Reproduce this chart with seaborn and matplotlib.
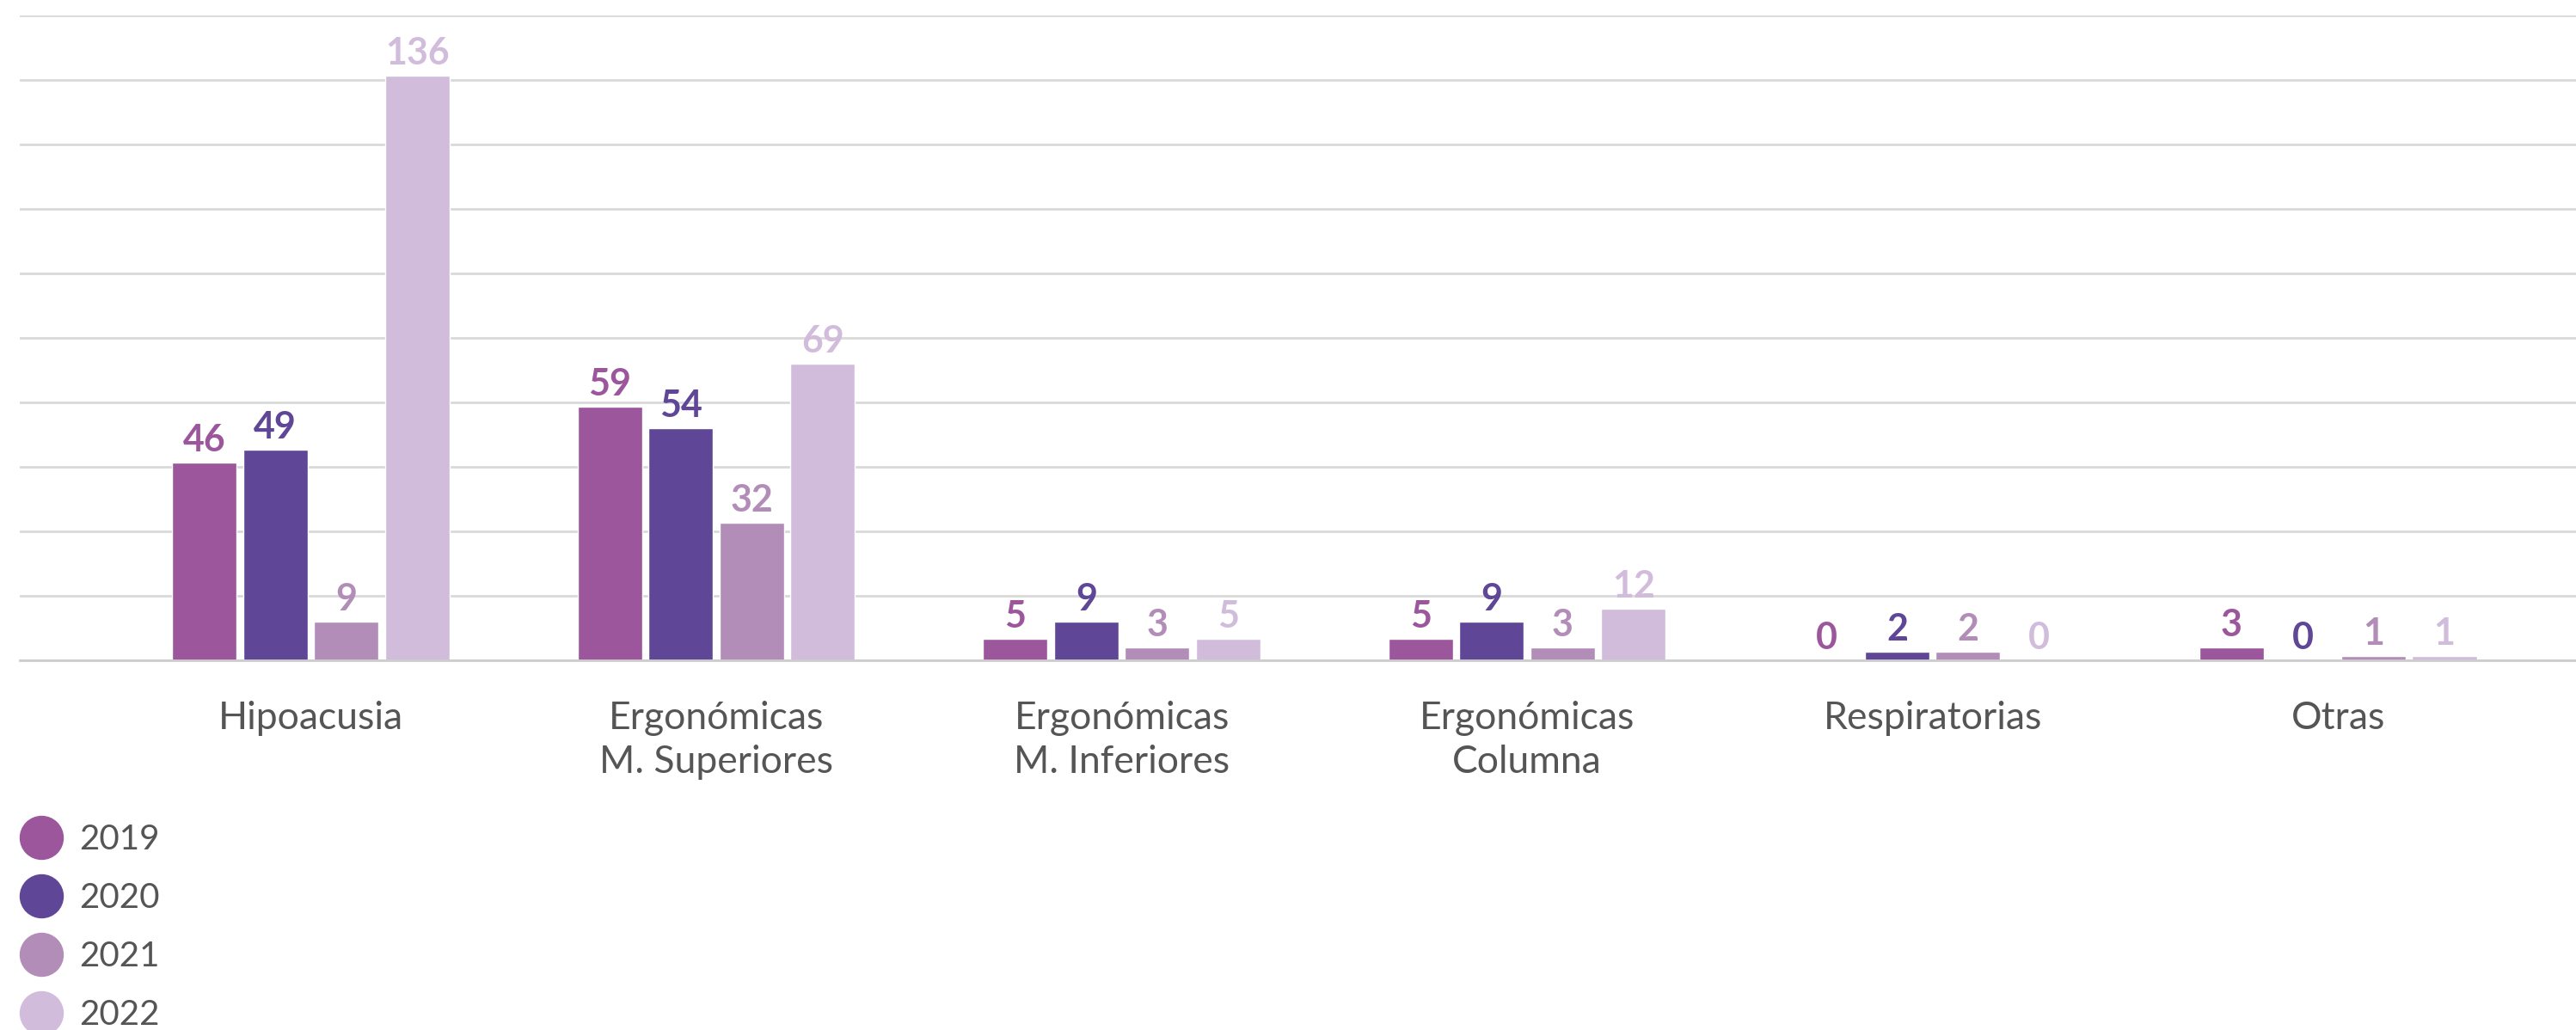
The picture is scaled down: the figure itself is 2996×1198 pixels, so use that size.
"""
Enfermedades profesionales por tipo, 2019-2022 (grouped bars).
"""
import pandas as pd
import matplotlib
matplotlib.use("Agg")
import matplotlib.pyplot as plt
from matplotlib.lines import Line2D
import seaborn as sns

categories = ["Hipoacusia", "Ergonómicas\nM. Superiores", "Ergonómicas\nM. Inferiores",
              "Ergonómicas\nColumna", "Respiratorias", "Otras"]
years = ["2019", "2020", "2021", "2022"]
values_2019 = [46, 59, 5, 5, 0, 3]
values_2020 = [49, 54, 9, 9, 2, 0]
values_2021 = [9, 32, 3, 3, 2, 1]
values_2022 = [136, 69, 5, 12, 0, 1]
colors = ["#9C569C", "#5F4696", "#B28DB8", "#D2BCDB"]

df = pd.DataFrame({
    "categoria": categories * 4,
    "anio": [y for y in years for _ in categories],
    "valor": values_2019 + values_2020 + values_2021 + values_2022,
})

sns.set_theme(style="white")
plt.rcParams["font.family"] = ["Lato", "DejaVu Sans"]

fig = plt.figure(figsize=(29.96, 11.98), dpi=100)
ax = fig.add_axes([23 / 2996, 1 - 767.5 / 1198, 1 - 23 / 2996, (767.5 - 17.5) / 1198])

sns.barplot(data=df, x="categoria", y="valor", hue="anio", palette=colors,
            width=0.7, gap=0.09, saturation=1, legend=False, ax=ax)

# value labels in the colour of each series
for cont, col in zip(ax.containers, colors):
    ax.bar_label(cont, labels=[str(int(v)) for v in cont.datavalues], padding=4,
                 color=col, fontsize=31, fontweight="bold")

ax.set_ylim(0, 150)
ax.set_xlim(-0.718, 5.587)
ax.set_yticks(range(0, 151, 15))
ax.yaxis.grid(True, color="#d9d9d9", linewidth=2)
ax.set_axisbelow(True)
ax.set_yticklabels([])
ax.tick_params(axis="y", length=0)
ax.tick_params(axis="x", length=0, pad=34, labelsize=32, labelcolor="#555555")
for lbl in ax.get_xticklabels():
    lbl.set_linespacing(1.3)
ax.set_xlabel("")
ax.set_ylabel("")
sns.despine(ax=ax, left=True, top=True, right=True)
ax.spines["bottom"].set_color("#cccccc")
ax.spines["bottom"].set_linewidth(2)

handles = [Line2D([], [], marker="o", linestyle="", markersize=36, color=c) for c in colors]
fig.legend(handles, years, loc="upper left", bbox_to_anchor=(24 / 2996, 1 - 958 / 1198),
           frameon=False, fontsize=29, labelcolor="#555555", handletextpad=0.5,
           labelspacing=0.77, borderaxespad=0, borderpad=0, handlelength=1.2)

fig.savefig("out.png", dpi=100)
plt.close(fig)
